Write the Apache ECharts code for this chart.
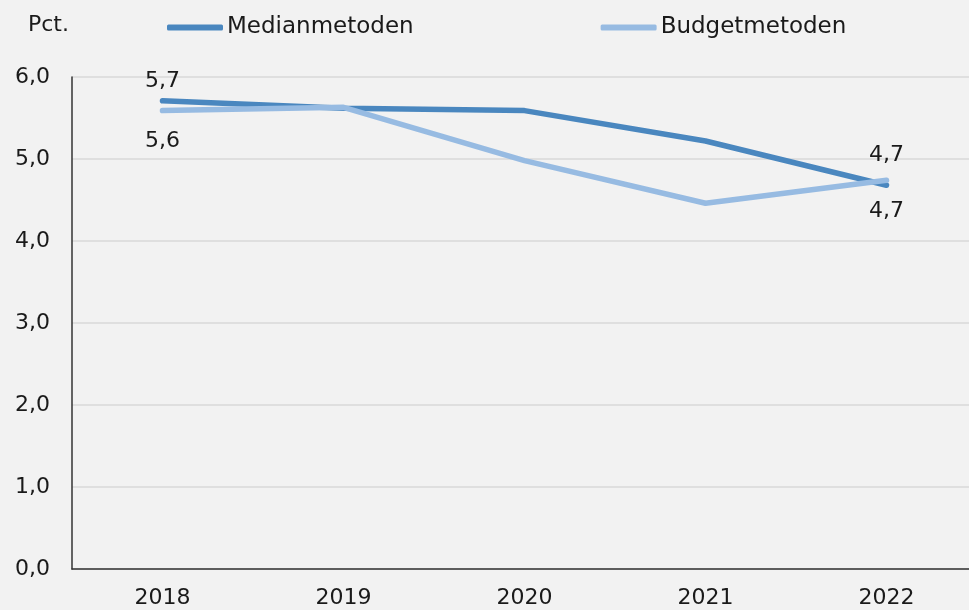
<!DOCTYPE html>
<html>
<head>
<meta charset="utf-8">
<script src="https://cdn.jsdelivr.net/npm/echarts@6/dist/echarts.min.js"></script>
<style>
  html, body { margin: 0; padding: 0; background: #f2f2f2; }
  #main { width: 969px; height: 610px; }
</style>
</head>
<body>
<div id="main"></div>
<script>
// data
var years = ['2018', '2019', '2020', '2021', '2022'];
var median = [5.71, 5.62, 5.59, 5.22, 4.68];
var budget = [5.59, 5.63, 4.98, 4.46, 4.74];
var yTicks = [0, 1, 2, 3, 4, 5, 6];

var FONT = 'DejaVu Sans';

function fmt(v) {
  return v.toFixed(1).replace('.', ',');
}

// only the first and last point get a label
function withLabels(values, first, last) {
  return values.map(function (v, i) {
    var lab = i === 0 ? first : (i === values.length - 1 ? last : null);
    if (!lab) return v;
    return {
      value: v,
      label: { show: true, position: lab[0], distance: lab[1] }
    };
  });
}

var chart = echarts.init(document.getElementById('main'), null, { renderer: 'canvas' });

var labelStyle = {
  show: false,
  color: '#1a1a1a',
  fontFamily: FONT,
  fontSize: 22,
  formatter: function (p) { return fmt(p.value); }
};

var option = {
  backgroundColor: '#f2f2f2',
  animation: false,
  title: {
    text: 'Pct.',
    left: 23,
    top: 9,
    textStyle: { fontFamily: FONT, fontSize: 22, fontWeight: 'normal', color: '#1a1a1a' }
  },
  legend: {
    left: 162,
    top: 11,
    itemWidth: 56,
    itemHeight: 6,
    itemGap: 187,
    icon: 'roundRect',
    textStyle: { fontFamily: FONT, fontSize: 23, color: '#1a1a1a', padding: [0, 0, 0, -1] },
    data: ['Medianmetoden', 'Budgetmetoden']
  },
  grid: {
    left: 72,
    width: 905,
    top: 77,
    bottom: 41,
    containLabel: false,
    outerBoundsMode: 'none'
  },
  xAxis: {
    type: 'category',
    data: years,
    boundaryGap: true,
    axisLine: { lineStyle: { color: '#333333', width: 1.5 } },
    axisTick: { show: false },
    axisLabel: { color: '#1a1a1a', fontFamily: FONT, fontSize: 22, margin: 18 }
  },
  yAxis: {
    type: 'value',
    min: yTicks[0],
    max: yTicks[yTicks.length - 1],
    interval: 1,
    axisLine: { show: true, lineStyle: { color: '#333333', width: 1.5 } },
    axisTick: { show: false },
    splitLine: { lineStyle: { color: '#d9d9d9', width: 1.5 } },
    axisLabel: {
      color: '#1a1a1a',
      fontFamily: FONT,
      fontSize: 22,
      margin: 22,
      formatter: function (v) { return fmt(v); }
    }
  },
  series: [
    {
      name: 'Medianmetoden',
      type: 'line',
      data: withLabels(median, ['top', 8], ['bottom', 15]),
      showSymbol: true,
      symbol: 'circle',
      symbolSize: 0,
      color: '#4a87bf',
      lineStyle: { width: 5.5, cap: 'round', join: 'round' },
      label: labelStyle,
      z: 3
    },
    {
      name: 'Budgetmetoden',
      type: 'line',
      data: withLabels(budget, ['bottom', 20], ['top', 14]),
      showSymbol: true,
      symbol: 'circle',
      symbolSize: 0,
      color: '#97bbe2',
      lineStyle: { width: 5.5, cap: 'round', join: 'round' },
      label: labelStyle,
      z: 4
    }
  ]
};

chart.setOption(option);
</script>
</body>
</html>
